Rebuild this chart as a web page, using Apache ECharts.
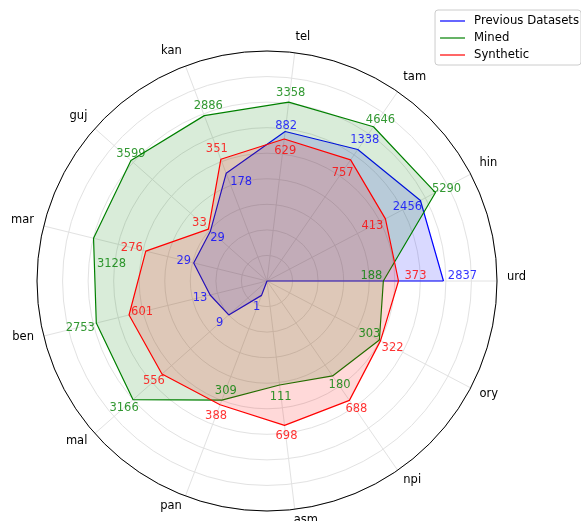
<!DOCTYPE html>
<html><head><meta charset="utf-8">
<script src="https://cdn.jsdelivr.net/npm/echarts@6/dist/echarts.min.js"></script>
<style>html,body{margin:0;padding:0;background:#fff}#c{width:581px;height:521px}</style>
</head><body><div id="c"></div>
<script>
const categories = ['urd','hin','tam','tel','kan','guj','mar','ben','mal','pan','asm','npi','ory'];
const previousDatasets = [2837,2456,1338,882,178,29,29,13,9,1,0,0,0];
const mined = [188,5290,4646,3358,2886,3599,3128,2753,3166,309,111,180,303];
const synthetic = [373,413,757,629,351,33,276,601,556,388,698,688,322];
const seriesNames = ['Previous Datasets','Mined','Synthetic'];
const colors = ['#0000ff','#008000','#ff0000'];
// label offsets (pixels, label centre relative to vertex)
const offsPrev = [[19,-5],[-13,7],[7,-9],[1,-6],[15,9],[7,7],[-10,-2],[-10,3],[-9,8],[-5,12],[0,0],[0,0],[0,0]];
const offsMined = [[-12,-5],[11,-4],[7,-7],[2,-9],[4,-10],[0,-6],[18,26],[-16,5],[-9,8],[4,-9],[1,12],[7,9],[-10,-6]];
const offsSynth = [[17,-5],[-13,7],[-8,13],[1,12],[-4,-10],[-9,-6],[-14,-3],[13,-3],[-8,7],[-4,11],[2,11],[7,9],[12,7]];

const toR = v => Math.log10(v + 1);
const FONT = 'DejaVu Sans';
const FS = 11.5;
const allValues = [previousDatasets, mined, synthetic];
const allOffs = [offsPrev, offsMined, offsSynth];

const series = [];
allValues.forEach((vals, k) => {
  const pts = vals.map((v, i) => [toR(v), i]);
  pts.push([toR(vals[0]), categories.length]);
  series.push({
    name: seriesNames[k], type: 'line', coordinateSystem: 'polar',
    data: pts, symbol: 'none', smooth: false,
    lineStyle: {color: colors[k], width: 1.2},
    itemStyle: {color: colors[k]},
    areaStyle: {color: colors[k], opacity: 0.15},
    z: 2 + k, silent: true, animation: false
  });
});
allValues.forEach((vals, k) => {
  series.push({
    name: 'lbl' + k, type: 'scatter', coordinateSystem: 'polar',
    symbolSize: 0, z: 10, silent: true, animation: false,
    data: vals.map((v, i) => ({value: [toR(v), i], raw: v, label: {offset: allOffs[k][i]}}))
              .filter(d => d.raw !== 0),
    label: {show: true, position: 'inside', color: colors[k], fontSize: FS, fontFamily: FONT,
      formatter: p => String(vals[p.data.value[1]])}
  });
});

const base = {fontSize: FS, fontFamily: FONT, color: '#000'};
const rich = {
  b: Object.assign({}, base),
  bc: Object.assign({}, base, {padding: [0, 0, 0, 14]}),
  mu: Object.assign({}, base, {padding: [0, 0, 8, 0]}),
  md: Object.assign({}, base, {padding: [0, 0, 2, 0]}),
  t: Object.assign({}, base, {lineHeight: 2}),
  tc: Object.assign({}, base, {lineHeight: 2, padding: [0, 0, 0, 20]})
};
function catLabel(v) {
  const i = Math.round(v);
  if (i < 0 || i >= categories.length) return '';
  const a = i * 2 * Math.PI / categories.length;
  const s = Math.sin(a), c = Math.cos(a);
  let key = Math.abs(s) < 0.3 ? (s >= 0 ? 'mu' : 'md') : (s > 0 ? 'b' : 't');
  if ((key === 'b' || key === 't') && Math.abs(c) < 0.3) key += 'c';
  return '{' + key + '|' + categories[i] + '}';
}

const chart = echarts.init(document.getElementById('c'), null, {renderer: 'canvas'});
chart.setOption({
  animation: false,
  backgroundColor: '#fff',
  polar: {center: [267, 281], radius: 230},
  angleAxis: {
    type: 'value', min: 0, max: categories.length, interval: 1,
    startAngle: 0, clockwise: false,
    axisLine: {show: true, lineStyle: {color: '#000', width: 1}},
    axisTick: {show: false},
    axisLabel: {show: true, margin: 10, color: '#000', fontSize: FS, fontFamily: FONT,
      formatter: catLabel, rich: rich},
    splitLine: {show: true, lineStyle: {color: '#e2e2e2', width: 1}}
  },
  radiusAxis: {
    type: 'value', min: 0, max: 4.5, interval: 0.5,
    axisLine: {show: false}, axisTick: {show: false}, axisLabel: {show: false},
    splitLine: {show: true, lineStyle: {color: '#e2e2e2', width: 1}}
  },
  legend: {
    data: seriesNames, orient: 'vertical', right: 0, top: 10,
    icon: 'rect', itemWidth: 25, itemHeight: 1.2, itemGap: 5,
    padding: [5, 2, 4, 5],
    borderColor: '#cccccc', borderWidth: 1, borderRadius: 3,
    backgroundColor: 'rgba(255,255,255,0.8)',
    textStyle: {color: '#000', fontSize: 11.7, fontFamily: FONT, padding: [0, 0, 0, 4]}
  },
  series: series
});
</script></body></html>
